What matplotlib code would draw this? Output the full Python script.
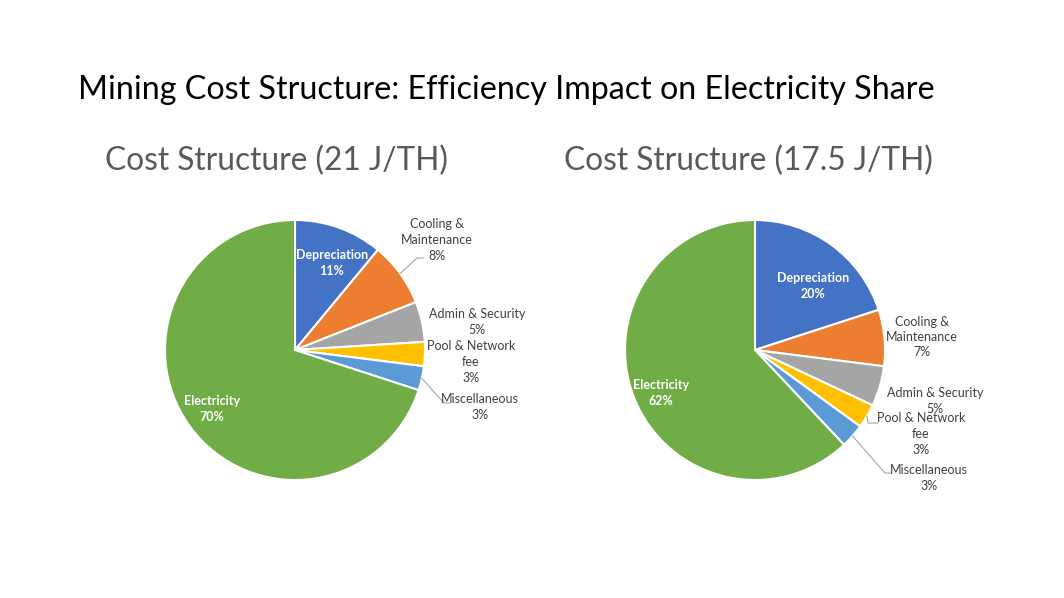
import matplotlib
matplotlib.use("Agg")
import matplotlib.pyplot as plt
import numpy as np

plt.rcParams['font.family'] = ['Lato', 'DejaVu Sans']

categories = ["Depreciation", "Cooling &\nMaintenance", "Admin & Security",
              "Pool & Network\nfee", "Miscellaneous", "Electricity"]
values_21 = [11, 8, 5, 3, 3, 70]
values_175 = [20, 7, 5, 3, 3, 62]
colors = ["#4472C4", "#ED7D31", "#A5A5A5", "#FFC000", "#5B9BD5", "#70AD47"]
main_title = "Mining Cost Structure: Efficiency Impact on Electricity Share"
sub_titles = ["Cost Structure (21 J/TH)", "Cost Structure (17.5 J/TH)"]

W, H = 1064, 598
fig = plt.figure(figsize=(W / 100, H / 100), dpi=100)


def fx(x):
    return x / W


def fy(y):
    return 1 - y / H


fig.text(fx(506), fy(90), main_title, ha='center', va='center', fontsize=23.2, color='#000000')

# layout: pie centres/radius in pixels
pies = [
    dict(cx=295, cy=350, r=130, vals=values_21, title=sub_titles[0], tx=276,
         labels=[(332, 263, 'in'), (437, 240, 'out'), (477, 322, 'out'),
                 (471, 362, 'out'), (480, 407, 'out'), (212, 409, 'in')],
         leaders={1: [(417, 258), (424, 258)], 4: [(444, 403), (450, 403)]}),
    dict(cx=755, cy=350, r=130, vals=values_175, title=sub_titles[1], tx=748,
         labels=[(813, 286, 'in'), (922, 337, 'out'), (935, 401, 'out'),
                 (921, 434, 'out'), (929, 478, 'out'), (661, 393, 'in')],
         leaders={3: [(868, 423), (878, 423)], 4: [(885, 473), (890, 473)]}),
]

for p in pies:
    fig.text(fx(p['tx']), fy(161), p['title'], ha='center', va='center',
             fontsize=22.8, color='#595959')
    ax = fig.add_axes([fx(p['cx'] - p['r']), fy(p['cy'] + p['r']),
                       2 * p['r'] / W, 2 * p['r'] / H])
    wedges, _ = ax.pie(p['vals'], colors=colors, startangle=90, counterclock=False,
                       wedgeprops=dict(edgecolor='white', linewidth=1.5))
    ax.set_xlim(-1, 1)
    ax.set_ylim(-1, 1)
    ax.set_aspect('equal')
    ax.axis('off')
    total = sum(p['vals'])
    for i, (w, (lx, ly, kind)) in enumerate(zip(wedges, p['labels'])):
        pct = f"{round(p['vals'][i] / total * 100)}%"
        txt = categories[i] + "\n" + pct
        if kind == 'in':
            fig.text(fx(lx), fy(ly), txt, ha='center', va='center', fontsize=9,
                     color='white', fontweight='bold', linespacing=1.35)
        else:
            fig.text(fx(lx), fy(ly), txt, ha='center', va='center', fontsize=9,
                     color='#404040', linespacing=1.35)
        if i in p['leaders']:
            ang = np.deg2rad((w.theta1 + w.theta2) / 2)
            sx = p['cx'] + p['r'] * np.cos(ang)
            sy = p['cy'] - p['r'] * np.sin(ang)
            pts = [(sx, sy)] + p['leaders'][i]
            xs = [fx(a) for a, b in pts]
            ys = [fy(b) for a, b in pts]
            fig.add_artist(plt.Line2D(xs, ys, color='#A6A6A6', linewidth=0.8))

fig.savefig("out.png", dpi=100, facecolor='white')
